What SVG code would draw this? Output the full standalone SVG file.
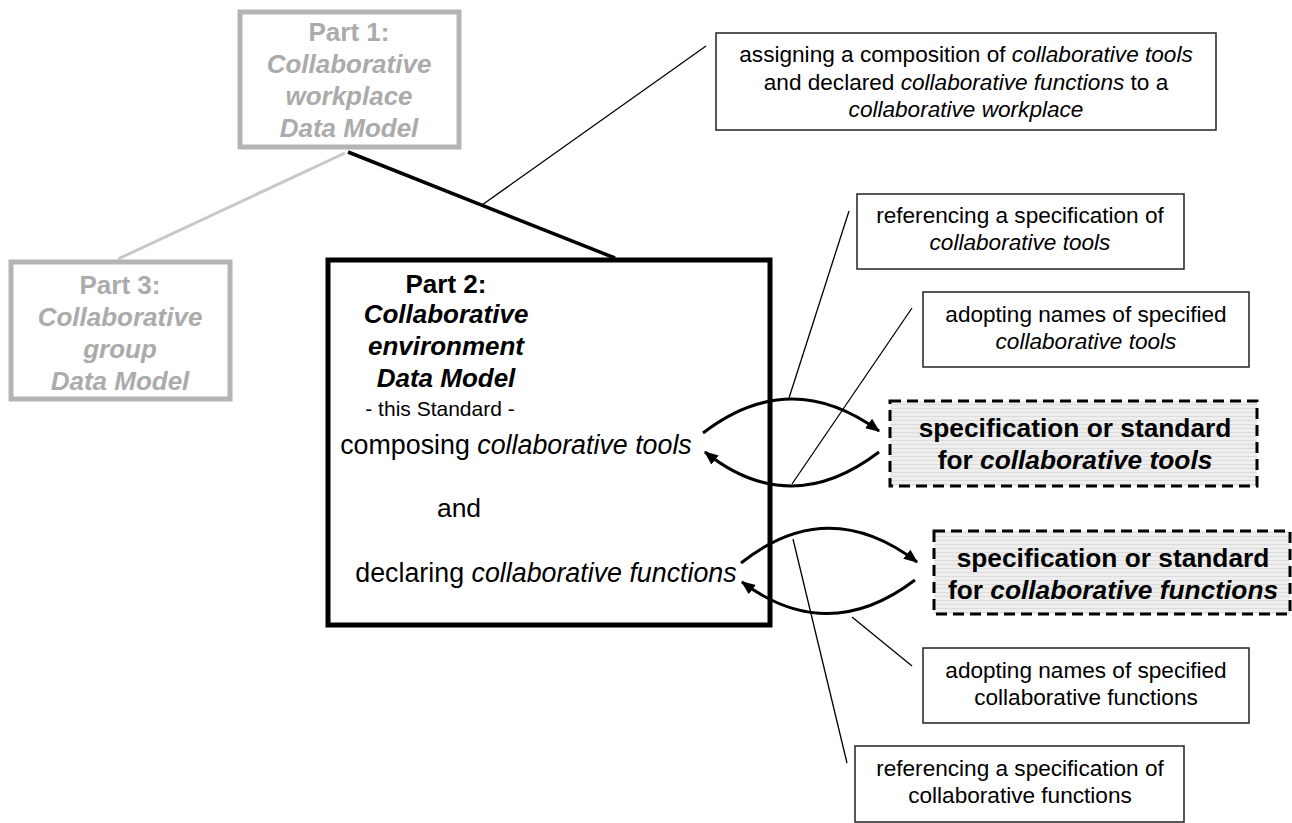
<svg xmlns="http://www.w3.org/2000/svg" width="1292" height="823" viewBox="0 0 1292 823">
<defs>
<marker id="arr" viewBox="0 0 12 10" refX="11" refY="5" markerWidth="14" markerHeight="12" markerUnits="userSpaceOnUse" orient="auto">
<path d="M0,0 L12,5 L0,10 z" fill="#000"/>
</marker>
<pattern id="stripe" width="4" height="4" patternUnits="userSpaceOnUse">
<rect width="4" height="4" fill="#eeeeee"/>
<rect width="4" height="1" fill="#dcdcdc"/>
</pattern>
<style>
text{font-family:"Liberation Sans",Arial,sans-serif;text-anchor:middle}
.grey rect{fill:#fff;stroke:#b4b4b4;stroke-width:5}
.grey text{fill:#ababab;font-weight:bold;font-size:26px}
.lbl rect{fill:#fff;stroke:#222;stroke-width:1.5}
.lbl text{font-size:22.6px;fill:#000}
.spec rect{fill:url(#stripe);stroke:#000;stroke-width:3;stroke-dasharray:11 6}
.spec text{font-size:26.3px;font-weight:bold;fill:#000}
.i{font-style:italic}
.thin{stroke:#000;stroke-width:1.3;fill:none}
.arc{stroke:#000;stroke-width:3;fill:none;marker-end:url(#arr)}
</style>
</defs>
<rect width="1292" height="823" fill="#fff"/>
<g id="connectors">
<line x1="345" y1="153" x2="118" y2="259" stroke="#c8c8c8" stroke-width="3"/>
<line x1="348" y1="152" x2="615" y2="258" stroke="#000" stroke-width="3.5"/>
<line class="thin" x1="482" y1="205" x2="706" y2="46"/>
<line class="thin" x1="849" y1="211" x2="789" y2="398"/>
<line class="thin" x1="912" y1="308" x2="792" y2="484"/>
<line class="thin" x1="852" y1="617" x2="912" y2="666"/>
<line class="thin" x1="793" y1="539" x2="847" y2="763"/>
<path class="arc" d="M703,433 Q790,366 879,431"/>
<path class="arc" d="M879,452 Q790,520 705,452"/>
<path class="arc" d="M741,563 Q828,494 917,562"/>
<path class="arc" d="M915,580 Q828,646 742,582"/>
</g>
<g id="part1" class="grey">
<rect x="240" y="12" width="219" height="135"/>
<text x="349" y="41">Part 1:</text>
<text x="349" y="73" class="i">Collaborative</text>
<text x="349" y="105" class="i">workplace</text>
<text x="349" y="137" class="i">Data Model</text>
</g>
<g id="part3" class="grey">
<rect x="11" y="262" width="219" height="137"/>
<text x="120" y="294">Part 3:</text>
<text x="120" y="326" class="i">Collaborative</text>
<text x="120" y="358" class="i">group</text>
<text x="120" y="390" class="i">Data Model</text>
</g>
<g id="part2">
<rect x="328" y="260" width="442" height="365" fill="none" stroke="#000" stroke-width="5"/>
<text x="446" y="293" font-size="26" font-weight="bold">Part 2:</text>
<text x="446" y="323" font-size="26" font-weight="bold" font-style="italic">Collaborative</text>
<text x="446" y="355" font-size="26" font-weight="bold" font-style="italic">environment</text>
<text x="446" y="387" font-size="26" font-weight="bold" font-style="italic">Data Model</text>
<text x="440" y="416" font-size="21">- this Standard -</text>
<text x="516" y="454" font-size="26.8">composing <tspan class="i">collaborative tools</tspan></text>
<text x="459" y="517" font-size="26.5">and</text>
<text x="546" y="582" font-size="26.8">declaring <tspan class="i">collaborative functions</tspan></text>
</g>
<g id="assigning" class="lbl">
<rect x="716" y="33" width="500" height="97"/>
<text x="966" y="62">assigning a composition of <tspan class="i">collaborative tools</tspan></text>
<text x="966" y="90">and declared <tspan class="i">collaborative functions</tspan> to a</text>
<text x="966" y="117" class="i">collaborative workplace</text>
</g>
<g id="ref-tools" class="lbl">
<rect x="857" y="194" width="327" height="75"/>
<text x="1020" y="223">referencing a specification of</text>
<text x="1020" y="250" class="i">collaborative tools</text>
</g>
<g id="adopt-tools" class="lbl">
<rect x="923" y="292" width="326" height="75"/>
<text x="1086" y="322">adopting names of specified</text>
<text x="1086" y="349" class="i">collaborative tools</text>
</g>
<g id="spec-tools" class="spec">
<rect x="890" y="401" width="367" height="85"/>
<text x="1075" y="437">specification or standard</text>
<text x="1075" y="469">for <tspan class="i">collaborative tools</tspan></text>
</g>
<g id="spec-functions" class="spec">
<rect x="934" y="531" width="356" height="83"/>
<text x="1113" y="567">specification or standard</text>
<text x="1113" y="599">for <tspan class="i">collaborative functions</tspan></text>
</g>
<g id="adopt-functions" class="lbl">
<rect x="923" y="648" width="326" height="75"/>
<text x="1086" y="678">adopting names of specified</text>
<text x="1086" y="705">collaborative functions</text>
</g>
<g id="ref-functions" class="lbl">
<rect x="855" y="746" width="329" height="76"/>
<text x="1020" y="776">referencing a specification of</text>
<text x="1020" y="803">collaborative functions</text>
</g>
</svg>
